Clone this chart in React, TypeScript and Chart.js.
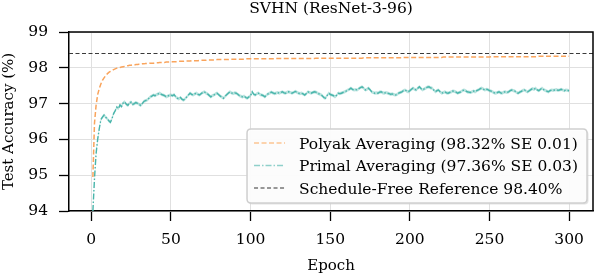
import React, { useEffect, useRef } from 'react';
import { Chart, registerables } from 'chart.js';

Chart.register(...registerables);

const TITLE = 'SVHN (ResNet-3-96)';
const X_LABEL = 'Epoch';
const Y_LABEL = 'Test Accuracy (%)';
const X_TICKS = [0, 50, 100, 150, 200, 250, 300];
const Y_TICKS = [94, 95, 96, 97, 98, 99];
const X_MIN = -14;
const X_MAX = 315;
const Y_MIN = 94;
const Y_MAX = 99;
const REFERENCE = 98.4;
const PRIMAL_SE = 0.045;
const LEGEND_LABELS = [
  'Polyak Averaging (98.32% SE 0.01)',
  'Primal Averaging (97.36% SE 0.03)',
  'Schedule-Free Reference 98.40%',
];

const EPOCHS = Array.from({ length: 300 }, (_, i) => i + 1);

const POLYAK = [
  94.95, 96.45, 96.95, 97.25, 97.42, 97.55, 97.65, 97.72, 97.78, 97.83,
  97.87, 97.90, 97.93, 97.95, 97.97, 97.99, 98.00, 98.01, 98.02, 98.03,
  98.04, 98.05, 98.06, 98.07, 98.07, 98.08, 98.08, 98.09, 98.09, 98.10,
  98.10, 98.11, 98.11, 98.12, 98.12, 98.12, 98.13, 98.13, 98.13, 98.14,
  98.14, 98.14, 98.15, 98.15, 98.15, 98.15, 98.16, 98.16, 98.16, 98.16,
  98.17, 98.17, 98.17, 98.17, 98.18, 98.18, 98.18, 98.18, 98.19, 98.19,
  98.19, 98.19, 98.20, 98.20, 98.20, 98.20, 98.20, 98.21, 98.21, 98.21,
  98.21, 98.21, 98.22, 98.22, 98.22, 98.22, 98.22, 98.22, 98.23, 98.23,
  98.23, 98.23, 98.23, 98.23, 98.23, 98.23, 98.24, 98.24, 98.24, 98.24,
  98.24, 98.24, 98.24, 98.24, 98.24, 98.24, 98.25, 98.25, 98.25, 98.25,
  98.25, 98.25, 98.25, 98.25, 98.25, 98.25, 98.25, 98.25, 98.25, 98.25,
  98.25, 98.25, 98.25, 98.25, 98.25, 98.26, 98.26, 98.26, 98.26, 98.26,
  98.26, 98.26, 98.26, 98.26, 98.26, 98.26, 98.26, 98.26, 98.26, 98.26,
  98.26, 98.26, 98.26, 98.26, 98.26, 98.26, 98.26, 98.26, 98.26, 98.26,
  98.27, 98.27, 98.27, 98.27, 98.27, 98.27, 98.27, 98.27, 98.27, 98.27,
  98.27, 98.27, 98.27, 98.27, 98.27, 98.27, 98.27, 98.27, 98.27, 98.27,
  98.27, 98.27, 98.27, 98.27, 98.27, 98.27, 98.27, 98.27, 98.27, 98.27,
  98.28, 98.28, 98.28, 98.28, 98.28, 98.28, 98.28, 98.28, 98.28, 98.28,
  98.28, 98.28, 98.28, 98.28, 98.28, 98.28, 98.28, 98.28, 98.28, 98.28,
  98.28, 98.28, 98.28, 98.28, 98.28, 98.29, 98.29, 98.29, 98.29, 98.29,
  98.29, 98.29, 98.29, 98.29, 98.29, 98.29, 98.29, 98.29, 98.29, 98.29,
  98.29, 98.29, 98.29, 98.29, 98.29, 98.29, 98.29, 98.29, 98.29, 98.29,
  98.30, 98.30, 98.30, 98.30, 98.30, 98.30, 98.30, 98.30, 98.30, 98.30,
  98.30, 98.30, 98.30, 98.30, 98.30, 98.30, 98.30, 98.30, 98.30, 98.30,
  98.30, 98.30, 98.30, 98.30, 98.30, 98.30, 98.30, 98.30, 98.30, 98.30,
  98.31, 98.31, 98.31, 98.31, 98.31, 98.31, 98.31, 98.31, 98.31, 98.31,
  98.31, 98.31, 98.31, 98.31, 98.31, 98.31, 98.31, 98.31, 98.31, 98.31,
  98.31, 98.31, 98.31, 98.31, 98.31, 98.31, 98.31, 98.31, 98.31, 98.31,
  98.32, 98.32, 98.32, 98.32, 98.32, 98.32, 98.32, 98.32, 98.32, 98.32,
  98.32, 98.32, 98.32, 98.32, 98.32, 98.32, 98.32, 98.32, 98.32, 98.32,
];

const PRIMAL = [
  94.00, 94.90, 95.60, 96.00, 96.30, 96.55, 96.62, 96.68, 96.62, 96.58,
  96.52, 96.48, 96.58, 96.72, 96.80, 96.90, 96.86, 96.96, 96.92, 97.02,
  97.05, 96.98, 96.95, 97.02, 97.04, 96.98, 97.00, 97.03, 97.01, 96.98,
  96.95, 97.00, 97.06, 97.08, 97.10, 97.14, 97.19, 97.21, 97.24, 97.22,
  97.25, 97.27, 97.29, 97.26, 97.24, 97.22, 97.19, 97.21, 97.23, 97.24,
  97.22, 97.25, 97.19, 97.15, 97.13, 97.17, 97.12, 97.10, 97.14, 97.19,
  97.24, 97.29, 97.26, 97.24, 97.27, 97.29, 97.26, 97.24, 97.28, 97.31,
  97.33, 97.29, 97.27, 97.23, 97.19, 97.22, 97.24, 97.27, 97.29, 97.25,
  97.21, 97.18, 97.15, 97.20, 97.25, 97.29, 97.33, 97.30, 97.28, 97.30,
  97.29, 97.26, 97.22, 97.20, 97.19, 97.21, 97.17, 97.15, 97.19, 97.22,
  97.33, 97.26, 97.24, 97.28, 97.29, 97.25, 97.24, 97.22, 97.19, 97.24,
  97.27, 97.29, 97.32, 97.30, 97.28, 97.29, 97.31, 97.29, 97.31, 97.33,
  97.30, 97.29, 97.32, 97.33, 97.31, 97.29, 97.31, 97.34, 97.32, 97.29,
  97.28, 97.29, 97.27, 97.24, 97.28, 97.33, 97.31, 97.29, 97.31, 97.33,
  97.32, 97.29, 97.27, 97.25, 97.22, 97.17, 97.15, 97.22, 97.29, 97.26,
  97.24, 97.22, 97.19, 97.23, 97.29, 97.28, 97.29, 97.31, 97.33, 97.35,
  97.38, 97.40, 97.43, 97.40, 97.38, 97.39, 97.38, 97.42, 97.45, 97.47,
  97.43, 97.38, 97.40, 97.43, 97.39, 97.33, 97.31, 97.29, 97.30, 97.29,
  97.32, 97.33, 97.30, 97.29, 97.31, 97.29, 97.28, 97.26, 97.27, 97.25,
  97.24, 97.26, 97.29, 97.31, 97.33, 97.36, 97.38, 97.35, 97.33, 97.36,
  97.40, 97.43, 97.40, 97.38, 97.43, 97.47, 97.42, 97.38, 97.41, 97.43,
  97.46, 97.47, 97.44, 97.43, 97.38, 97.33, 97.36, 97.38, 97.33, 97.29,
  97.31, 97.33, 97.30, 97.29, 97.31, 97.33, 97.35, 97.34, 97.32, 97.29,
  97.31, 97.33, 97.36, 97.38, 97.36, 97.33, 97.32, 97.31, 97.33, 97.35,
  97.33, 97.36, 97.38, 97.41, 97.43, 97.41, 97.38, 97.40, 97.39, 97.36,
  97.35, 97.33, 97.30, 97.29, 97.31, 97.33, 97.30, 97.29, 97.32, 97.33,
  97.31, 97.33, 97.36, 97.38, 97.36, 97.35, 97.31, 97.29, 97.32, 97.34,
  97.37, 97.38, 97.35, 97.33, 97.36, 97.39, 97.42, 97.40, 97.43, 97.38,
  97.36, 97.40, 97.43, 97.39, 97.37, 97.35, 97.33, 97.36, 97.38, 97.37,
  97.38, 97.39, 97.37, 97.38, 97.40, 97.38, 97.36, 97.38, 97.37, 97.36,
];

const FONT = '"DejaVu Serif", serif';
const FS = 15.5;
const ORANGE = '#f9a45c';
const TEAL = '#4ab5ab';
const TEAL_BAND = 'rgba(74,181,171,0.38)';
const REF_COLOR = '#3a3a3a';
const LEGEND_STYLES = [
  { color: '#fcc593', dash: [5, 2.5], width: 1.5 },
  { color: '#8fd0ca', dash: [6, 2, 1.5, 2], width: 1.5 },
  { color: '#333333', dash: [4, 2.5], width: 1.2 },
];

const framePlugin = {
  id: 'frameAndLegend',
  afterDraw(chart: any) {
    const { ctx, chartArea } = chart;
    ctx.save();
    ctx.strokeStyle = '#000';
    ctx.lineWidth = 1.5;
    ctx.setLineDash([]);
    ctx.beginPath();
    ctx.moveTo(chartArea.left, chartArea.top);
    ctx.lineTo(chartArea.right, chartArea.top);
    ctx.lineTo(chartArea.right, chartArea.bottom);
    ctx.stroke();

    ctx.font = `${FS}px ${FONT}`;
    const textW = Math.max(...LEGEND_LABELS.map((t) => ctx.measureText(t).width));
    const padL = 7, lineLen = 31, gap = 14, padR = 9, rowH = 22.5, padT = 14, padB = 15;
    const right = chartArea.right - 6;
    const bottom = chartArea.bottom - 8;
    const w = padL + lineLen + gap + textW + padR;
    const h = padT + rowH * (LEGEND_LABELS.length - 1) + padB;
    const left = right - w;
    const top = bottom - h;
    const r = 4;
    const rr = (x: number, y: number, ww: number, hh: number) => {
      ctx.beginPath();
      ctx.moveTo(x + r, y);
      ctx.lineTo(x + ww - r, y);
      ctx.quadraticCurveTo(x + ww, y, x + ww, y + r);
      ctx.lineTo(x + ww, y + hh - r);
      ctx.quadraticCurveTo(x + ww, y + hh, x + ww - r, y + hh);
      ctx.lineTo(x + r, y + hh);
      ctx.quadraticCurveTo(x, y + hh, x, y + hh - r);
      ctx.lineTo(x, y + r);
      ctx.quadraticCurveTo(x, y, x + r, y);
      ctx.closePath();
    };
    rr(left + 1.5, top + 1.5, w, h);
    ctx.fillStyle = 'rgba(200,200,200,0.5)';
    ctx.fill();
    rr(left, top, w, h);
    ctx.fillStyle = 'rgba(255,255,255,0.9)';
    ctx.fill();
    ctx.strokeStyle = '#cfcfcf';
    ctx.lineWidth = 1.5;
    ctx.stroke();

    LEGEND_LABELS.forEach((label, i) => {
      const y = top + padT + i * rowH;
      const st = LEGEND_STYLES[i];
      ctx.strokeStyle = st.color;
      ctx.lineWidth = st.width;
      ctx.setLineDash(st.dash);
      ctx.beginPath();
      ctx.moveTo(left + padL, y);
      ctx.lineTo(left + padL + lineLen, y);
      ctx.stroke();
      ctx.setLineDash([]);
      ctx.fillStyle = '#000';
      ctx.textBaseline = 'alphabetic';
      ctx.textAlign = 'left';
      ctx.fillText(label, left + padL + lineLen + gap, y + 5.5);
    });
    ctx.restore();
  },
};

export default function App() {
  const ref = useRef<HTMLCanvasElement | null>(null);

  useEffect(() => {
    document.body.style.margin = '0';
    const canvas = ref.current;
    if (!canvas) return;

    const polyakPts = EPOCHS.map((e, i) => ({ x: e, y: POLYAK[i] }));
    const primalPts = EPOCHS.map((e, i) => ({ x: e, y: PRIMAL[i] }));
    const primalLo = EPOCHS.map((e, i) => ({ x: e, y: PRIMAL[i] - PRIMAL_SE }));
    const primalHi = EPOCHS.map((e, i) => ({ x: e, y: PRIMAL[i] + PRIMAL_SE }));
    const refPts = [
      { x: X_MIN, y: REFERENCE },
      { x: X_MAX, y: REFERENCE },
    ];

    const chart = new Chart(canvas, {
      type: 'line',
      data: {
        datasets: [
          { label: 'lo', data: primalLo, borderWidth: 0, pointRadius: 0, fill: false, borderColor: 'rgba(0,0,0,0)' },
          { label: 'hi', data: primalHi, borderWidth: 0, pointRadius: 0, fill: '-1', backgroundColor: TEAL_BAND, borderColor: 'rgba(0,0,0,0)' },
          { label: LEGEND_LABELS[1], data: primalPts, borderColor: TEAL, borderWidth: 1.4, borderDash: [6, 2, 1.5, 2], pointRadius: 0, fill: false, tension: 0 },
          { label: LEGEND_LABELS[0], data: polyakPts, borderColor: ORANGE, borderWidth: 1.5, borderDash: [5, 2.5], pointRadius: 0, fill: false, tension: 0 },
          { label: LEGEND_LABELS[2], data: refPts, borderColor: REF_COLOR, borderWidth: 1.2, borderDash: [4, 2.5], pointRadius: 0, fill: false },
        ],
      },
      options: {
        animation: false,
        responsive: false,
        events: [],
        layout: { padding: { left: 0, right: 5, top: 0, bottom: 0 } },
        plugins: {
          legend: { display: false },
          tooltip: { enabled: false },
          title: {
            display: true,
            text: TITLE,
            fullSize: false,
            color: '#000',
            font: { family: FONT, size: FS, weight: 'normal' },
            padding: { top: 0, bottom: 32 - FS * 1.2 },
          },
        },
        scales: {
          x: {
            type: 'linear',
            min: X_MIN,
            max: X_MAX,
            afterBuildTicks: (s: any) => { s.ticks = X_TICKS.map((v) => ({ value: v })); },
            afterFit: (s: any) => { s.height = 66; },
            ticks: { color: '#000', font: { family: FONT, size: FS }, padding: 10, maxRotation: 0, autoSkip: false },
            grid: { color: '#e0e0e0', lineWidth: 1, tickColor: '#000', tickLength: 10, tickWidth: 1.3 },
            border: { display: true, color: '#000', width: 1.5 },
            title: { display: true, text: X_LABEL, color: '#000', font: { family: FONT, size: 15 }, padding: { top: 0, bottom: 2 } },
          },
          y: {
            type: 'linear',
            min: Y_MIN,
            max: Y_MAX,
            afterBuildTicks: (s: any) => { s.ticks = Y_TICKS.map((v) => ({ value: v })); },
            afterFit: (s: any) => { s.width = 69; },
            ticks: { color: '#000', font: { family: FONT, size: FS }, padding: 11 },
            grid: { color: '#e0e0e0', lineWidth: 1, tickColor: '#000', tickLength: 10, tickWidth: 1.3 },
            border: { display: true, color: '#000', width: 1.5 },
            title: { display: true, text: Y_LABEL, color: '#000', font: { family: FONT, size: 15 }, padding: { top: 0, bottom: 0 } },
          },
        },
      },
      plugins: [framePlugin],
    } as any);

    return () => chart.destroy();
  }, []);

  return (
    <div style={{ width: 598, height: 277 }}>
      <canvas ref={ref} width={598} height={277} style={{ display: 'block', width: 598, height: 277 }} />
    </div>
  );
}
